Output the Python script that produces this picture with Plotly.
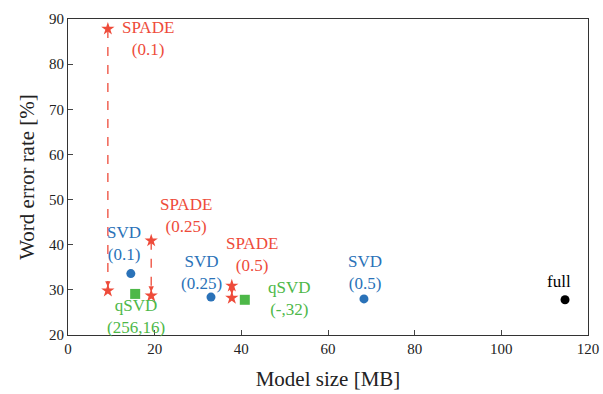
import plotly.graph_objects as go

RED = "#EE4B3A"
BLUE = "#2A72B8"
GREEN = "#4DB848"
FONT = "Liberation Serif, Times New Roman, serif"

# SPADE: arrows from original (top) to retrained (bottom)
spade_x = [9.2, 19.2, 37.8]
spade_top = [87.8, 40.9, 30.9]
spade_bottom = [29.8, 28.7, 28.2]
spade_labels = ["SPADE<br>(0.1)", "SPADE<br>(0.25)", "SPADE<br>(0.5)"]
spade_label_x = [18.5, 27.2, 42.5]
spade_label_y = [85.6, 46.4, 37.8]

svd_x = [14.5, 33.0, 68.3]
svd_y = [33.6, 28.4, 28.0]
svd_labels = ["SVD<br>(0.1)", "SVD<br>(0.25)", "SVD<br>(0.5)"]
svd_label_x = [12.9, 30.7, 68.5]
svd_label_y = [40.2, 33.8, 33.8]

qsvd_x = [15.5, 40.8]
qsvd_y = [29.1, 27.8]
qsvd_labels = ["qSVD<br>(256,16)", "qSVD<br>(-,32)"]
qsvd_label_x = [15.7, 51.2]
qsvd_label_y = [24.0, 28.0]

full_x = [114.7]
full_y = [27.8]
full_labels = ["full"]
full_label_x = [113.3]
full_label_y = [31.8]

x_ticks = [0, 20, 40, 60, 80, 100, 120]
y_ticks = [20, 30, 40, 50, 60, 70, 80, 90]

fig = go.Figure()

annotations = []
for x, t, b in zip(spade_x, spade_top, spade_bottom):
    fig.add_trace(go.Scatter(x=[x, x], y=[t, b], mode="lines",
                             line=dict(color=RED, width=1.3, dash="dash"),
                             hoverinfo="skip", showlegend=False))
    annotations.append(dict(x=x, y=b, ax=x, ay=b + 2.0, xref="x", yref="y",
                            axref="x", ayref="y", text="", showarrow=True,
                            arrowhead=2, arrowsize=0.9, arrowwidth=1.2,
                            arrowcolor=RED, standoff=4))

fig.add_trace(go.Scatter(x=spade_x + spade_x, y=spade_top + spade_bottom, mode="markers",
                         marker=dict(symbol="star", size=10, color=RED),
                         showlegend=False))
fig.add_trace(go.Scatter(x=svd_x, y=svd_y, mode="markers",
                         marker=dict(symbol="circle", size=9, color=BLUE),
                         showlegend=False))
fig.add_trace(go.Scatter(x=qsvd_x, y=qsvd_y, mode="markers",
                         marker=dict(symbol="square", size=10, color=GREEN),
                         showlegend=False))
fig.add_trace(go.Scatter(x=full_x, y=full_y, mode="markers",
                         marker=dict(symbol="circle", size=9, color="black"),
                         showlegend=False))

def add_labels(xs, ys, texts, color):
    for x, y, t in zip(xs, ys, texts):
        annotations.append(dict(x=x, y=y, xref="x", yref="y", text=t, showarrow=False,
                                font=dict(family=FONT, size=17, color=color),
                                align="center", xanchor="center", yanchor="middle"))

add_labels(spade_label_x, spade_label_y, spade_labels, RED)
add_labels(svd_label_x, svd_label_y, svd_labels, BLUE)
add_labels(qsvd_label_x, qsvd_label_y, qsvd_labels, GREEN)
add_labels(full_label_x, full_label_y, full_labels, "black")

fig.update_layout(
    width=603, height=394,
    margin=dict(l=68, r=15, t=19, b=59),
    plot_bgcolor="white", paper_bgcolor="white",
    font=dict(family=FONT, size=15, color="#222"),
    annotations=annotations,
    xaxis=dict(range=[0, 120], tickvals=x_ticks, ticks="inside", ticklen=5,
               showline=True, linecolor="#333", linewidth=1, mirror=True,
               showgrid=False, zeroline=False, automargin=False,
               title=dict(text="Model size [MB]", font=dict(size=21), standoff=15)),
    yaxis=dict(range=[20, 90], tickvals=y_ticks, ticks="inside", ticklen=5,
               showline=True, linecolor="#333", linewidth=1, mirror=True,
               showgrid=False, zeroline=False, automargin=False,
               title=dict(text="Word error rate [%]", font=dict(size=21), standoff=8)),
)

# remove the default page margin so the figure fills the window exactly
fig.write_html("out.html", config={"displayModeBar": False},
               post_script="document.body.style.margin='0';document.body.style.overflow='hidden';")
